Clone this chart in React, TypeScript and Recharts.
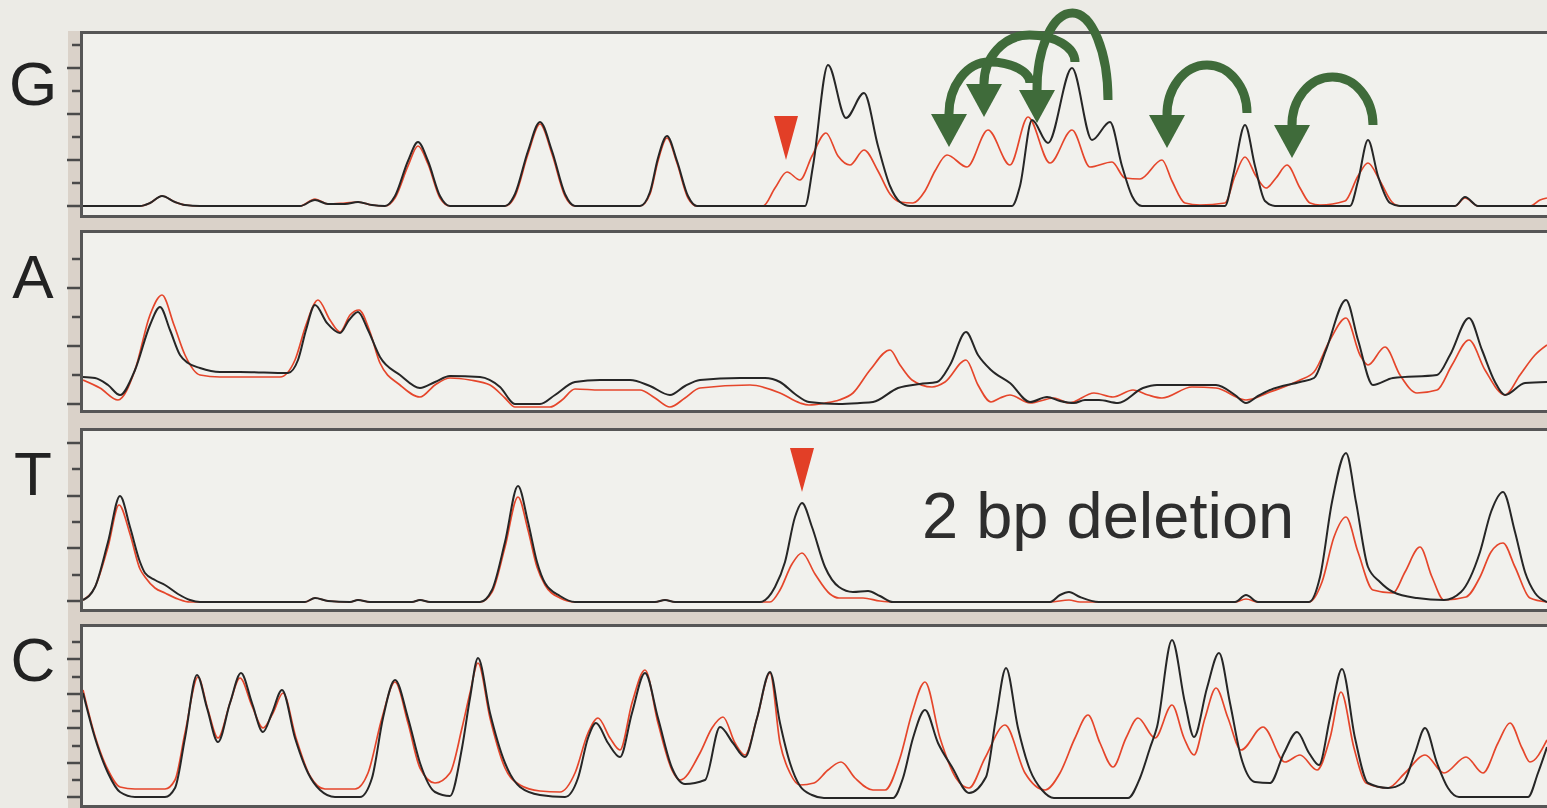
import React from "react";
import { LineChart, Line, XAxis, YAxis, ReferenceLine, ReferenceDot } from "recharts";

// trace keypoints: [scan position, signal]
const gBlack = [
  [83, 0], [140, 0], [150, 3], [162, 10], [175, 4], [185, 1], [200, 0], [300, 0], [315, 6], [328, 2], [345, 2], [358, 4], [372, 1], [385, 0],
  [395, 10], [408, 45], [418, 64], [428, 45], [440, 10], [450, 0], [505, 0], [515, 12], [528, 55], [540, 84], [552, 55], [565, 12], [575, 0],
  [640, 0], [650, 14], [658, 48], [667, 70], [677, 45], [688, 10], [697, 0], [805, 0], [813, 40], [828, 141], [846, 88], [864, 113], [878, 60],
  [890, 20], [900, 4], [910, 0], [1012, 0], [1020, 20], [1032, 86], [1048, 63], [1072, 138], [1092, 66], [1110, 84], [1122, 40], [1132, 10],
  [1142, 0], [1225, 0], [1233, 30], [1245, 81], [1255, 40], [1265, 5], [1275, 0], [1350, 0], [1358, 25], [1368, 66], [1378, 30], [1390, 3],
  [1400, 0], [1455, 0], [1465, 9], [1478, 0], [1547, 0],
];
const gRed = [
  [83, 0], [140, 0], [150, 3], [162, 10], [175, 4], [185, 1], [200, 0], [300, 0], [315, 7], [328, 2], [345, 3], [358, 4], [372, 1], [385, 0],
  [395, 8], [408, 40], [418, 60], [428, 42], [440, 8], [450, 0], [505, 0], [515, 10], [528, 52], [540, 82], [552, 52], [565, 10], [575, 0],
  [640, 0], [650, 12], [658, 45], [667, 68], [677, 43], [688, 8], [697, 0], [763, 0], [775, 18], [787, 34], [800, 26], [812, 50], [826, 73],
  [838, 50], [850, 41], [864, 56], [878, 35], [890, 12], [900, 4], [913, 3], [925, 15], [935, 35], [947, 51], [967, 39], [988, 76], [1010, 41],
  [1028, 89], [1050, 43], [1072, 76], [1090, 39], [1112, 44], [1125, 28], [1140, 27], [1162, 46], [1172, 25], [1185, 3], [1200, 1], [1225, 3],
  [1235, 30], [1245, 49], [1256, 30], [1266, 18], [1276, 28], [1287, 41], [1300, 18], [1310, 3], [1320, 1], [1345, 5], [1358, 30], [1368, 43],
  [1380, 25], [1392, 4], [1400, 0], [1455, 0], [1465, 8], [1478, 0], [1530, 0], [1540, 6], [1547, 8],
];

const aBlack = [
  [83, 33], [95, 32], [108, 25], [120, 15], [135, 40], [150, 85], [160, 103], [170, 80], [180, 55], [188, 47], [200, 42], [220, 38], [240, 38],
  [288, 37], [298, 50], [306, 80], [315, 105], [327, 87], [340, 77], [349, 90], [358, 98], [368, 80], [380, 53], [400, 35], [420, 22], [435, 28],
  [450, 34], [480, 33], [500, 23], [515, 6], [540, 6], [555, 15], [575, 28], [600, 30], [630, 30], [650, 24], [670, 15], [685, 24], [700, 30],
  [740, 32], [765, 32], [780, 28], [795, 16], [809, 8], [839, 6], [860, 7], [873, 8], [898, 22], [920, 26], [937, 28], [950, 45], [966, 78],
  [978, 55], [991, 40], [1010, 27], [1030, 8], [1047, 13], [1060, 9], [1074, 7], [1085, 10], [1099, 10], [1118, 7], [1143, 22], [1157, 25],
  [1216, 25], [1235, 15], [1246, 7], [1258, 14], [1270, 20], [1300, 28], [1314, 32], [1326, 60], [1346, 110], [1358, 70], [1373, 25],
  [1393, 32], [1437, 35], [1450, 55], [1469, 92], [1482, 60], [1495, 28], [1505, 15], [1525, 27], [1547, 28],
];
const aRed = [
  [83, 30], [100, 22], [118, 10], [135, 40], [150, 95], [162, 115], [174, 85], [185, 55], [200, 35], [220, 33], [240, 33], [280, 33], [295, 50],
  [306, 85], [318, 110], [330, 90], [340, 78], [350, 95], [359, 100], [370, 78], [380, 47], [400, 25], [420, 13], [435, 25], [450, 32],
  [470, 30], [490, 25], [505, 12], [515, 3], [550, 3], [562, 10], [575, 21], [600, 20], [640, 20], [655, 12], [670, 3], [685, 12], [700, 22],
  [750, 25], [780, 17], [800, 7], [809, 5], [825, 7], [839, 10], [853, 17], [870, 40], [890, 60], [900, 45], [912, 30], [932, 23], [945, 28],
  [966, 50], [978, 25], [991, 8], [1000, 12], [1010, 15], [1030, 7], [1054, 12], [1069, 7], [1094, 17], [1113, 13], [1133, 20], [1148, 15],
  [1162, 12], [1192, 23], [1216, 22], [1246, 10], [1270, 18], [1300, 30], [1314, 38], [1330, 70], [1346, 92], [1360, 55], [1368, 45],
  [1385, 63], [1400, 35], [1417, 17], [1437, 20], [1452, 45], [1469, 70], [1485, 40], [1505, 15], [1520, 35], [1535, 55], [1547, 65],
];

const tBlack = [
  [83, 2], [95, 15], [108, 60], [120, 106], [130, 75], [140, 40], [145, 29], [155, 22], [165, 17], [178, 8], [190, 2], [200, 0], [305, 0],
  [315, 4], [328, 1], [350, 0], [358, 2], [370, 0], [412, 0], [420, 2], [430, 0], [480, 0], [492, 12], [505, 60], [518, 116], [528, 80],
  [537, 40], [545, 19], [560, 6], [575, 0], [655, 0], [665, 2], [675, 0], [760, 0], [775, 15], [785, 40], [795, 85], [802, 99], [812, 75],
  [825, 35], [839, 15], [853, 10], [868, 11], [880, 6], [893, 0], [1050, 0], [1060, 7], [1069, 10], [1080, 5], [1099, 0], [1235, 0],
  [1246, 7], [1258, 0], [1309, 0], [1320, 25], [1332, 100], [1346, 149], [1356, 100], [1368, 35], [1380, 20], [1393, 10], [1417, 4],
  [1444, 2], [1461, 10], [1480, 50], [1491, 90], [1503, 110], [1515, 70], [1525, 30], [1535, 9], [1547, 0],
];
const tRed = [
  [83, 2], [95, 15], [108, 55], [119, 97], [130, 68], [140, 33], [145, 25], [155, 14], [165, 9], [178, 3], [190, 0], [305, 0], [315, 4],
  [328, 1], [350, 0], [358, 2], [370, 0], [412, 0], [420, 2], [430, 0], [480, 0], [492, 10], [505, 55], [518, 105], [528, 72], [537, 35],
  [545, 17], [560, 4], [575, 0], [655, 0], [665, 2], [675, 0], [770, 0], [780, 12], [792, 38], [802, 49], [815, 28], [830, 8], [839, 4],
  [863, 4], [880, 1], [893, 0], [1050, 0], [1069, 2], [1080, 0], [1235, 0], [1246, 3], [1258, 0], [1309, 0], [1322, 20], [1334, 65],
  [1346, 85], [1358, 50], [1373, 12], [1393, 9], [1405, 30], [1420, 55], [1432, 25], [1444, 2], [1466, 5], [1480, 25], [1491, 50],
  [1503, 59], [1515, 35], [1530, 4], [1547, 0],
];

const cBlack = [
  [83, 105], [95, 60], [108, 25], [120, 6], [135, 1], [165, 1], [175, 10], [185, 60], [197, 123], [207, 90], [218, 56], [230, 95], [241, 125],
  [252, 95], [263, 66], [272, 85], [282, 108], [295, 60], [308, 25], [320, 8], [335, 1], [360, 1], [372, 20], [383, 80], [395, 118], [408, 80],
  [420, 35], [435, 6], [450, 2], [462, 50], [470, 100], [478, 140], [490, 85], [505, 35], [520, 11], [540, 3], [565, 1], [578, 20], [588, 60],
  [596, 75], [608, 55], [620, 41], [632, 85], [645, 125], [658, 80], [672, 30], [685, 14], [705, 18], [720, 71], [733, 55], [745, 41],
  [757, 80], [770, 126], [780, 75], [790, 35], [800, 12], [812, 3], [824, 0], [893, 0], [903, 20], [913, 60], [925, 88], [938, 55], [952, 31],
  [969, 5], [986, 21], [996, 80], [1006, 130], [1018, 70], [1030, 28], [1042, 8], [1054, 0], [1128, 0], [1140, 20], [1150, 50], [1157, 71],
  [1172, 158], [1185, 95], [1194, 61], [1207, 110], [1219, 145], [1230, 95], [1241, 41], [1255, 16], [1270, 15], [1284, 45], [1297, 66],
  [1309, 45], [1319, 33], [1330, 80], [1342, 129], [1355, 60], [1368, 15], [1388, 10], [1403, 15], [1415, 45], [1425, 70], [1437, 35],
  [1448, 10], [1459, 1], [1528, 1], [1538, 25], [1547, 51],
];
const cRed = [
  [83, 108], [95, 62], [108, 28], [120, 11], [135, 9], [165, 9], [175, 18], [185, 65], [198, 121], [208, 88], [218, 60], [230, 95], [240, 120],
  [252, 92], [263, 70], [273, 85], [283, 105], [296, 60], [310, 22], [325, 9], [355, 9], [368, 25], [382, 80], [395, 116], [408, 75], [420, 30],
  [435, 15], [450, 25], [462, 70], [470, 105], [478, 135], [490, 80], [505, 30], [520, 13], [540, 7], [560, 6], [575, 25], [588, 65], [598, 80],
  [610, 60], [620, 48], [632, 95], [645, 128], [658, 75], [672, 28], [680, 18], [700, 45], [712, 70], [723, 81], [735, 55], [745, 43],
  [757, 80], [770, 125], [780, 55], [790, 25], [800, 13], [814, 15], [828, 28], [841, 36], [855, 20], [873, 8], [885, 8], [900, 40], [912, 85],
  [925, 116], [940, 60], [956, 20], [969, 10], [985, 40], [1005, 73], [1025, 25], [1045, 8], [1060, 25], [1075, 60], [1088, 83], [1100, 55],
  [1113, 31], [1126, 60], [1138, 80], [1155, 60], [1172, 93], [1184, 60], [1194, 43], [1205, 80], [1216, 110], [1228, 80], [1241, 48],
  [1263, 71], [1285, 36], [1300, 43], [1317, 28], [1330, 60], [1341, 106], [1354, 50], [1366, 15], [1388, 10], [1405, 25], [1425, 43],
  [1444, 25], [1466, 41], [1483, 25], [1498, 55], [1510, 75], [1522, 50], [1530, 36], [1547, 58],
];

const gTicks = [0, 23, 46, 69, 92, 115, 138, 161];
const aTicks = [6, 35, 64, 93, 122, 151];
const tTicks = [1, 27, 54, 80, 106, 133, 159];
const cTicks = [1, 18, 35, 52, 70, 87, 104, 121, 139, 156];

// shifted peaks: black peak (tail) -> red peak (head), apex = arc top
const gArrows = [
  { tail: [1030, 123], head: [949, 59], apex: 144 },
  { tail: [1075, 144], head: [984, 89], apex: 171 },
  { tail: [1108, 106], head: [1037, 83], apex: 193 },
  { tail: [1247, 93], head: [1167, 58], apex: 141 },
  { tail: [1373, 81], head: [1292, 48], apex: 129 },
];
const gMarker = [786, 46];
const tMarker = [802, 110];

const pts = (arr: number[][]) => arr.map(([x, v]) => ({ x, v }));

const BLACK = "#262626";
const RED = "#e5462b";
const GREEN = "#3f6b3a";
const BORDER = "#565656";
const BOX_LEFT = 80;
const W = 1547;

const panels = [
  { label: "G", top: 31, bottom: 218, zero: 206, extra: 31, black: gBlack, red: gRed, ticks: gTicks, labelY: 105 },
  { label: "A", top: 230, bottom: 413, zero: 410, extra: 0, black: aBlack, red: aRed, ticks: aTicks, labelY: 298 },
  { label: "T", top: 428, bottom: 612, zero: 602, extra: 0, black: tBlack, red: tRed, ticks: tTicks, labelY: 495 },
  { label: "C", top: 624, bottom: 808, zero: 798, extra: 0, black: cBlack, red: cRed, ticks: cTicks, labelY: 681 },
];

const TickMark = (props: any) => {
  const long = props.index % 2 === 0;
  return (
    <line x1={long ? BOX_LEFT - 13 : BOX_LEFT - 8} x2={BOX_LEFT} y1={props.y} y2={props.y} stroke="#4a4a4a" strokeWidth={2.5} />
  );
};

const Marker = (props: any) => {
  const { cx, cy } = props;
  return <polygon points={`${cx - 12},${cy - 44} ${cx + 12},${cy - 44} ${cx},${cy}`} fill="#e23f27" />;
};

const makeArrow = (vTail: number, vHead: number, apex: number) => (props: any) => {
  const { x1, y1, x2, y2 } = props;
  const k = (y2 - y1) / (vTail - vHead);
  const ay = y1 - (apex - vTail) * k;
  const hy = y2 - 33;
  const mx = (x1 + x2) / 2;
  const d = `M ${x1} ${y1} A ${x1 - mx} ${y1 - ay} 0 0 0 ${mx} ${ay} A ${mx - x2} ${hy - ay} 0 0 0 ${x2} ${hy + 2}`;
  return (
    <g>
      <path d={d} fill="none" stroke={GREEN} strokeWidth={9} />
      <polygon points={`${x2 - 18},${hy} ${x2 + 18},${hy} ${x2},${y2}`} fill={GREEN} />
    </g>
  );
};

function Panel({ p }: { p: (typeof panels)[number] }) {
  const h = p.bottom - p.top + p.extra;
  const lo = p.zero - (p.bottom - 3);
  const hi = p.zero - (p.top + 3);
  return (
    <div style={{ position: "absolute", left: 0, top: p.top - p.extra, width: W, height: h }}>
      <LineChart width={W} height={h} margin={{ top: p.extra + 3, right: 0, bottom: 3, left: 63 }} style={{ overflow: "visible" }}>
        <XAxis type="number" dataKey="x" domain={[83, 1547]} allowDataOverflow hide />
        <YAxis type="number" width={20} domain={[lo, hi]} allowDataOverflow ticks={p.ticks} interval={0} tick={<TickMark />} axisLine={false} tickLine={false} />
        <Line data={pts(p.red)} dataKey="v" type="monotone" stroke={RED} strokeWidth={1.7} dot={false} isAnimationActive={false} />
        <Line data={pts(p.black)} dataKey="v" type="monotone" stroke={BLACK} strokeWidth={2} dot={false} isAnimationActive={false} />
        {p.label === "G" && <ReferenceDot x={gMarker[0]} y={gMarker[1]} r={0} ifOverflow="visible" shape={<Marker />} />}
        {p.label === "T" && <ReferenceDot x={tMarker[0]} y={tMarker[1]} r={0} ifOverflow="visible" shape={<Marker />} />}
        {p.label === "G" &&
          gArrows.map((a, i) => (
            <ReferenceLine
              key={i}
              segment={[{ x: a.tail[0], y: a.tail[1] }, { x: a.head[0], y: a.head[1] }]}
              ifOverflow="visible"
              shape={makeArrow(a.tail[1], a.head[1], a.apex)}
            />
          ))}
      </LineChart>
    </div>
  );
}

export default function App() {
  return (
    <div style={{ position: "absolute", left: 0, top: 0, width: W, height: 808, overflow: "hidden", background: "#ecebe6", fontFamily: "'Liberation Sans', Arial, sans-serif" }}>
      <div style={{ position: "absolute", left: 68, top: 31, width: W - 68, height: 808 - 31, background: "#dad2c9" }} />
      {panels.map((p) => (
        <div
          key={p.label + "box"}
          style={{
            position: "absolute", left: BOX_LEFT, top: p.top, width: W - BOX_LEFT + 10, height: p.bottom - p.top,
            boxSizing: "border-box", border: `3px solid ${BORDER}`, background: "#f1f1ed",
          }}
        />
      ))}
      {panels.map((p) => (
        <Panel key={p.label} p={p} />
      ))}
      <svg width={W} height={808} style={{ position: "absolute", left: 0, top: 0, pointerEvents: "none" }}>
        {panels.map((p) => (
          <text key={p.label} x={33} y={p.labelY} textAnchor="middle" fontSize={62} fill="#222" fontFamily="'Liberation Sans', Arial, sans-serif">
            {p.label}
          </text>
        ))}
        <text x={922} y={538} fontSize={65} fill="#2e2e2e" fontFamily="'Liberation Sans', Arial, sans-serif">
          2 bp deletion
        </text>
      </svg>
    </div>
  );
}
